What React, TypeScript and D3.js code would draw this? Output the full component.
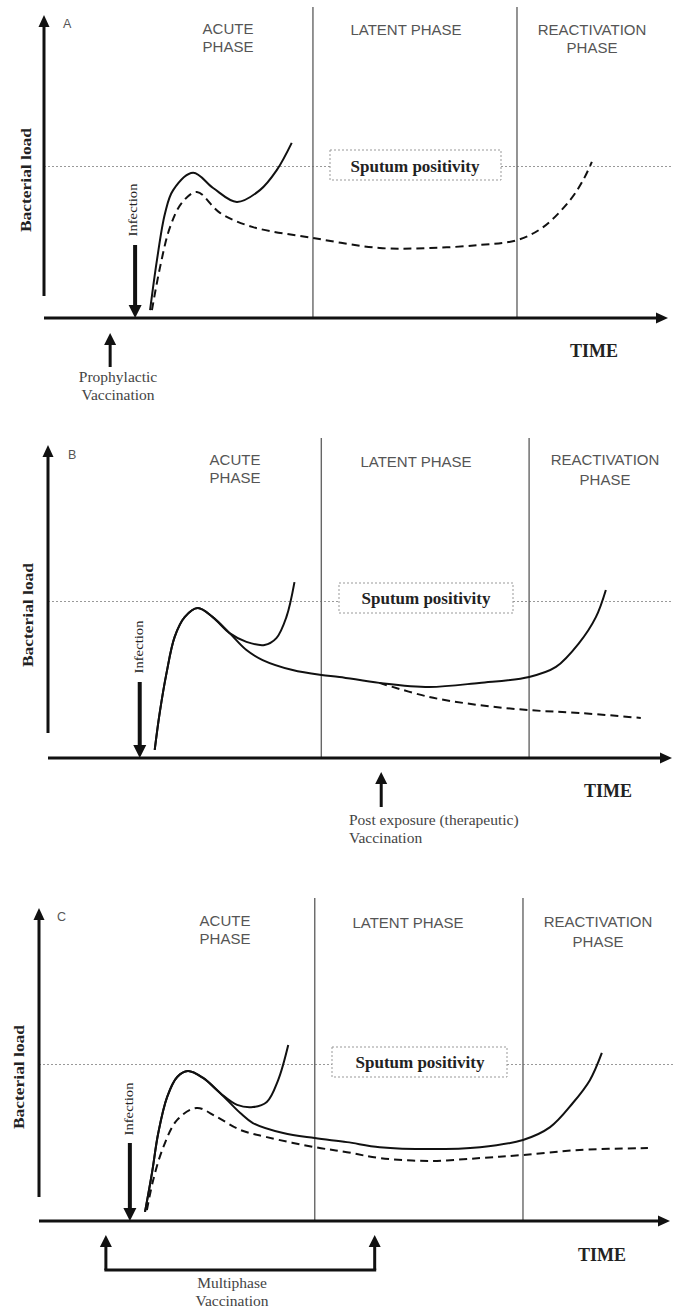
import React from "react";
import * as d3 from "d3";

// ---------- DATA (time 0..100 along x axis, bacterial load 0..100 along y axis) ----------
const panelLetters = ["A", "B", "C"];
const phaseNames = [["ACUTE", "PHASE"], ["LATENT PHASE"], ["REACTIVATION", "PHASE"]];
const sputumLabel = "Sputum positivity";
const sputumLevel = [50, 50, 50];
const phaseBounds = [[43.1, 75.8], [43.8, 77.1], [43.7, 76.7]];
const infectionTime = [14.6, 14.7, 14.4];
const vaccinationTimes = [[10.6], [53.4], [10.6, 53.2]];
const vaccinationLabels = [
  ["Prophylactic", "Vaccination"],
  ["Post exposure (therapeutic)", "Vaccination"],
  ["Multiphase", "Vaccination"],
];

type P = [number, number];

// Panel A
const aSolid: P[] = [
  [17.0, 2.6], [18.1, 19.1], [19.4, 34.6], [20.7, 42.2], [23.9, 47.9],
  [27.1, 42.9], [30.9, 38.3], [34.6, 42.2], [37.3, 48.8], [39.7, 57.8],
];
const aDashed: P[] = [
  [17.3, 2.6], [18.6, 16.8], [20.2, 30.0], [22.1, 38.0], [24.5, 41.6],
  [28.2, 34.7], [33.5, 30.0], [43.1, 26.4], [53.8, 23.1], [61.9, 23.1],
  [69.9, 24.1], [75.8, 25.7], [80.0, 30.0], [84.3, 38.9], [86.4, 45.5], [87.8, 51.5],
];

// Panel B
const bRise: P[] = [
  [17.1, 2.6], [17.9, 14.4], [19.0, 27.2], [20.3, 38.7], [21.9, 45.0],
  [24.0, 47.9], [26.4, 45.0], [29.1, 39.9],
];
const bAcuteBranch: P[] = [[31.8, 37.1], [34.7, 36.1], [36.6, 38.3], [38.2, 45.0], [39.5, 56.2]];
const bLatentBranch: P[] = [
  [31.8, 34.5], [34.4, 31.3], [39.2, 28.1], [43.8, 26.5], [46.7, 25.9], [53.1, 24.0],
  [61.1, 22.7], [69.1, 24.0], [77.1, 25.9], [81.4, 29.1], [85.1, 36.7], [87.8, 45.0], [89.4, 53.7],
];
const bDashed: P[] = [[53.1, 24.0], [61.1, 19.5], [69.1, 16.9], [77.1, 15.3], [85.1, 14.4], [95.0, 12.8]];

// Panel C
const cRise: P[] = [
  [16.8, 2.9], [17.9, 15.3], [18.9, 28.1], [20.3, 39.6], [21.9, 46.0],
  [23.6, 47.9], [26.0, 45.7], [28.7, 40.9],
];
const cAcuteBranch: P[] = [[31.4, 37.1], [33.9, 36.4], [36.1, 38.0], [37.9, 45.0], [39.5, 56.2]];
const cLatentBranch: P[] = [
  [31.9, 34.5], [33.9, 31.3], [38.7, 28.1], [43.7, 26.5], [48.8, 25.2], [54.0, 23.6],
  [62.0, 23.0], [69.9, 23.6], [76.7, 25.9], [81.0, 30.0], [84.6, 37.7], [87.3, 45.0], [89.2, 53.7],
];
const cDashed: P[] = [
  [17.1, 3.5], [18.1, 13.1], [19.7, 23.6], [21.9, 32.3], [25.0, 36.1], [28.2, 33.2],
  [31.9, 29.1], [36.1, 26.8], [43.7, 23.6], [48.8, 22.0], [54.0, 20.1], [62.0, 19.2],
  [69.9, 20.1], [76.7, 21.1], [85.7, 22.7], [96.5, 23.3],
];

const solidCurves: P[][][] = [
  [aSolid],
  [[...bRise, ...bAcuteBranch], [...bRise, ...bLatentBranch]],
  [[...cRise, ...cAcuteBranch], [...cRise, ...cLatentBranch]],
];
const dashedCurves: P[][][] = [[aDashed], [bDashed], [cDashed]];

// ---------- LAYOUT ----------
const layouts = [
  {
    left: 44, right: 668, axisY: 318, top: 15, yAxisBottom: 296, phaseTop: 7,
    letter: [63, 28], acute: [228, 34, 52], latent: [406, 35], react: [592, 35, 53],
    box: [330, 501, 150, 180], boxTextX: 415, boxTextY: 172,
    bact: [31, 180], inf: [137, 210], infTop: 245, time: [594, 357],
    vaccTop: 333, vaccBottom: 367, vaccText: [118, 382, 400], vaccAnchor: "middle",
  },
  {
    left: 48, right: 672, axisY: 758, top: 445, yAxisBottom: 733, phaseTop: 438,
    letter: [68, 459], acute: [235, 465, 483], latent: [416, 467], react: [605, 465, 485],
    box: [339, 513, 583, 613], boxTextX: 426, boxTextY: 604,
    bact: [33, 615], inf: [143, 647], infTop: 682, time: [608, 797],
    vaccTop: 772, vaccBottom: 807, vaccText: [349, 825, 843], vaccAnchor: "start",
  },
  {
    left: 39, right: 670, axisY: 1221, top: 908, yAxisBottom: 1197, phaseTop: 898,
    letter: [57, 921], acute: [225, 926, 944], latent: [408, 928], react: [598, 927, 947],
    box: [332, 507, 1047, 1077], boxTextX: 420, boxTextY: 1068,
    bact: [24, 1077], inf: [133, 1109], infTop: 1143, time: [602, 1261],
    vaccTop: 1235, vaccBottom: 1270, vaccText: [232, 1288, 1306], vaccAnchor: "middle",
  },
];

const INK = "#111";
const GREY = "#555";
const SERIF = "'Liberation Serif', 'DejaVu Serif', serif";
const SANS = "'Liberation Sans', Arial, sans-serif";

function Panel({ i }: { i: number }) {
  const L = layouts[i];
  const x = d3.scaleLinear().domain([0, 100]).range([L.left, L.right]);
  const y = d3.scaleLinear().domain([0, 100]).range([L.axisY, L.top]);
  const line = d3
    .line<P>()
    .x((d) => x(d[0]))
    .y((d) => y(d[1]))
    .curve(d3.curveCatmullRom.alpha(0.5));
  const sy = y(sputumLevel[i]);
  const [bx1, bx2, by1, by2] = L.box;
  const infX = x(infectionTime[i]);
  const vts = vaccinationTimes[i];

  return (
    <g>
      {/* sputum positivity reference line */}
      <line x1={L.left} x2={bx1} y1={sy} y2={sy} stroke="#999" strokeWidth={1} strokeDasharray="2,2" />
      <line x1={bx2} x2={673} y1={sy} y2={sy} stroke="#999" strokeWidth={1} strokeDasharray="2,2" />
      <rect x={bx1} y={by1} width={bx2 - bx1} height={by2 - by1} fill="#fff" stroke="#999" strokeWidth={1} strokeDasharray="2,2" />
      <text x={L.boxTextX} y={L.boxTextY} textAnchor="middle" fontFamily={SERIF} fontWeight="bold" fontSize={17} fill="#222">
        {sputumLabel}
      </text>

      {/* phase boundaries */}
      {phaseBounds[i].map((t, k) => (
        <line key={k} x1={x(t)} x2={x(t)} y1={L.phaseTop} y2={L.axisY} stroke="#666" strokeWidth={1.4} />
      ))}

      {/* phase labels */}
      <g fontFamily={SANS} fontSize={15} fill={GREY} textAnchor="middle">
        <text x={L.acute[0]} y={L.acute[1]}>{phaseNames[0][0]}</text>
        <text x={L.acute[0]} y={L.acute[2]}>{phaseNames[0][1]}</text>
        <text x={L.latent[0]} y={L.latent[1]}>{phaseNames[1][0]}</text>
        <text x={L.react[0]} y={L.react[1]}>{phaseNames[2][0]}</text>
        <text x={L.react[0]} y={L.react[2]}>{phaseNames[2][1]}</text>
      </g>

      {/* panel letter */}
      <text x={L.letter[0]} y={L.letter[1]} fontFamily={SANS} fontSize={12.5} fill={GREY}>
        {panelLetters[i]}
      </text>

      {/* y axis */}
      <line x1={L.left} x2={L.left} y1={L.yAxisBottom} y2={L.top + 10} stroke={INK} strokeWidth={3} />
      <path d={`M${L.left},${L.top} L${L.left - 5.5},${L.top + 12} L${L.left + 5.5},${L.top + 12} Z`} fill={INK} />
      {/* x axis */}
      <line x1={L.left} x2={L.right - 10} y1={L.axisY} y2={L.axisY} stroke={INK} strokeWidth={3} />
      <path d={`M${L.right},${L.axisY} L${L.right - 12},${L.axisY - 5.5} L${L.right - 12},${L.axisY + 5.5} Z`} fill={INK} />

      {/* axis titles */}
      <text
        transform={`translate(${L.bact[0]},${L.bact[1]}) rotate(-90)`}
        textAnchor="middle" fontFamily={SERIF} fontWeight="bold" fontSize={14} fill="#222"
        textLength={104} lengthAdjust="spacingAndGlyphs"
      >
        Bacterial load
      </text>
      <text x={L.time[0]} y={L.time[1]} textAnchor="middle" fontFamily={SERIF} fontWeight="bold" fontSize={18} fill="#222">
        TIME
      </text>

      {/* infection arrow */}
      <text
        transform={`translate(${L.inf[0]},${L.inf[1]}) rotate(-90)`}
        textAnchor="middle" fontFamily={SERIF} fontSize={11.5} fill="#222"
        textLength={53} lengthAdjust="spacingAndGlyphs"
      >
        Infection
      </text>
      <line x1={infX} x2={infX} y1={L.infTop} y2={L.axisY - 10} stroke={INK} strokeWidth={4} />
      <path d={`M${infX},${L.axisY} L${infX - 6.5},${L.axisY - 13} L${infX + 6.5},${L.axisY - 13} Z`} fill={INK} />

      {/* curves */}
      {solidCurves[i].map((c, k) => (
        <path key={"s" + k} d={line(c) || ""} fill="none" stroke={INK} strokeWidth={2} />
      ))}
      {dashedCurves[i].map((c, k) => (
        <path key={"d" + k} d={line(c) || ""} fill="none" stroke={INK} strokeWidth={2} strokeDasharray="8,5" />
      ))}

      {/* vaccination arrows */}
      {vts.map((t, k) => {
        const vx = x(t);
        return (
          <g key={"v" + k}>
            <line x1={vx} x2={vx} y1={L.vaccTop + 10} y2={L.vaccBottom} stroke={INK} strokeWidth={3} />
            <path d={`M${vx},${L.vaccTop} L${vx - 6},${L.vaccTop + 12} L${vx + 6},${L.vaccTop + 12} Z`} fill={INK} />
          </g>
        );
      })}
      {vts.length > 1 && (
        <line x1={x(vts[0]) - 1.5} x2={x(vts[vts.length - 1]) + 1.5} y1={L.vaccBottom} y2={L.vaccBottom} stroke={INK} strokeWidth={3} />
      )}
      <g fontFamily={SERIF} fontSize={15.5} fill="#444" textAnchor={L.vaccAnchor as any}>
        <text x={L.vaccText[0]} y={L.vaccText[1]}>{vaccinationLabels[i][0]}</text>
        <text x={L.vaccText[0]} y={L.vaccText[2]}>{vaccinationLabels[i][1]}</text>
      </g>
    </g>
  );
}

export default function App() {
  return (
    <svg
      width={673}
      height={1311}
      viewBox="0 0 673 1311"
      style={{ position: "absolute", left: 0, top: 0, display: "block", background: "#fff" }}
    >
      <rect x={0} y={0} width={673} height={1311} fill="#fff" />
      {layouts.map((_, i) => (
        <Panel key={i} i={i} />
      ))}
    </svg>
  );
}
